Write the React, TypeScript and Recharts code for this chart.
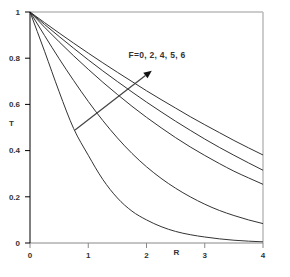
import React from 'react';
import { LineChart, Line, XAxis, YAxis, ReferenceLine, ReferenceDot } from 'recharts';

const rValues = [0, 0.25, 0.5, 0.75, 1, 1.25, 1.5, 1.75, 2, 2.25, 2.5, 2.75, 3, 3.25, 3.5, 3.75, 4];
const tF0 = [1, 0.83, 0.655, 0.495, 0.38, 0.275, 0.195, 0.138, 0.1, 0.071, 0.05, 0.036, 0.026, 0.018, 0.012, 0.008, 0.005];
const tF2 = [1, 0.898, 0.798, 0.703, 0.613, 0.53, 0.455, 0.388, 0.33, 0.28, 0.237, 0.2, 0.168, 0.141, 0.119, 0.1, 0.084];
const tF4 = [1, 0.934, 0.871, 0.81, 0.752, 0.696, 0.643, 0.592, 0.544, 0.499, 0.456, 0.416, 0.379, 0.344, 0.311, 0.282, 0.254];
const tF5 = [1, 0.946, 0.894, 0.843, 0.793, 0.745, 0.699, 0.654, 0.61, 0.568, 0.527, 0.488, 0.45, 0.414, 0.38, 0.347, 0.315];
const tF6 = [1, 0.954, 0.909, 0.865, 0.822, 0.78, 0.739, 0.699, 0.659, 0.621, 0.584, 0.547, 0.512, 0.478, 0.444, 0.412, 0.381];

const xTicks = [0, 1, 2, 3, 4];
const yTicks = [0, 0.2, 0.4, 0.6, 0.8, 1];
const annotation = 'F=0, 2, 4, 5, 6';
const arrowStart = { x: 0.773, y: 0.489 };
const arrowEnd = { x: 2.09, y: 0.746 };
const labelPos = { x: 2.18, y: 0.814 };

const data = rValues.map((r, i) => ({ r, f0: tF0[i], f2: tF2[i], f4: tF4[i], f5: tF5[i], f6: tF6[i] }));
const series = ['f0', 'f2', 'f4', 'f5', 'f6'];

const font = { fontFamily: 'Liberation Sans, Arial, sans-serif', fontSize: 8, fill: '#333', fontWeight: 'bold' as const };
const noteFont = { fontFamily: 'Liberation Sans, Arial, sans-serif', fontSize: 8.5, fill: '#333', fontWeight: 'bold' as const, letterSpacing: 0.3 };

const ArrowShape = (props: any) => {
  const { x1, y1, x2, y2 } = props;
  if (x1 == null) return null;
  const ang = Math.atan2(y2 - y1, x2 - x1);
  const len = 8;
  const w = 3.5;
  const bx = x2 - len * Math.cos(ang);
  const by = y2 - len * Math.sin(ang);
  const px = -Math.sin(ang) * w;
  const py = Math.cos(ang) * w;
  return (
    <g>
      <line x1={x1} y1={y1} x2={bx} y2={by} stroke="#444" strokeWidth={1.2} />
      <polygon points={`${x2},${y2} ${bx + px},${by + py} ${bx - px},${by - py}`} fill="#111" />
    </g>
  );
};

export default function App() {
  return (
    <div style={{ position: 'absolute', left: 0, top: 0 }}>
      <LineChart width={290} height={277} data={data} margin={{ top: 12, right: 27, left: 0, bottom: 4 }}>
        <XAxis
          dataKey="r"
          type="number"
          domain={[0, 4]}
          ticks={xTicks}
          stroke="#888"
          tickSize={5}
          tickMargin={4}
          tick={font}
          height={30}
          label={{ value: 'R', position: 'insideTop', offset: 6, dx: 30, style: font }}
        />
        <YAxis
          type="number"
          domain={[0, 1]}
          ticks={yTicks}
          stroke="#000"
          tickSize={5}
          tickMargin={5}
          tick={font}
          width={30}
          label={{ value: 'T', position: 'insideLeft', offset: 9, dy: -4, style: font }}
        />
        <ReferenceLine y={1} stroke="#bbb" strokeWidth={1.5} />
        <ReferenceLine x={4} stroke="#bbb" strokeWidth={1.5} />
        {series.map((k) => (
          <Line key={k} dataKey={k} type="monotone" stroke="#333" strokeWidth={1} dot={false} isAnimationActive={false} />
        ))}
        <ReferenceLine segment={[arrowStart, arrowEnd]} shape={ArrowShape} />
        <ReferenceDot
          x={labelPos.x}
          y={labelPos.y}
          r={0}
          fill="none"
          stroke="none"
          label={{ value: annotation, position: 'center', style: noteFont }}
        />
      </LineChart>
    </div>
  );
}
